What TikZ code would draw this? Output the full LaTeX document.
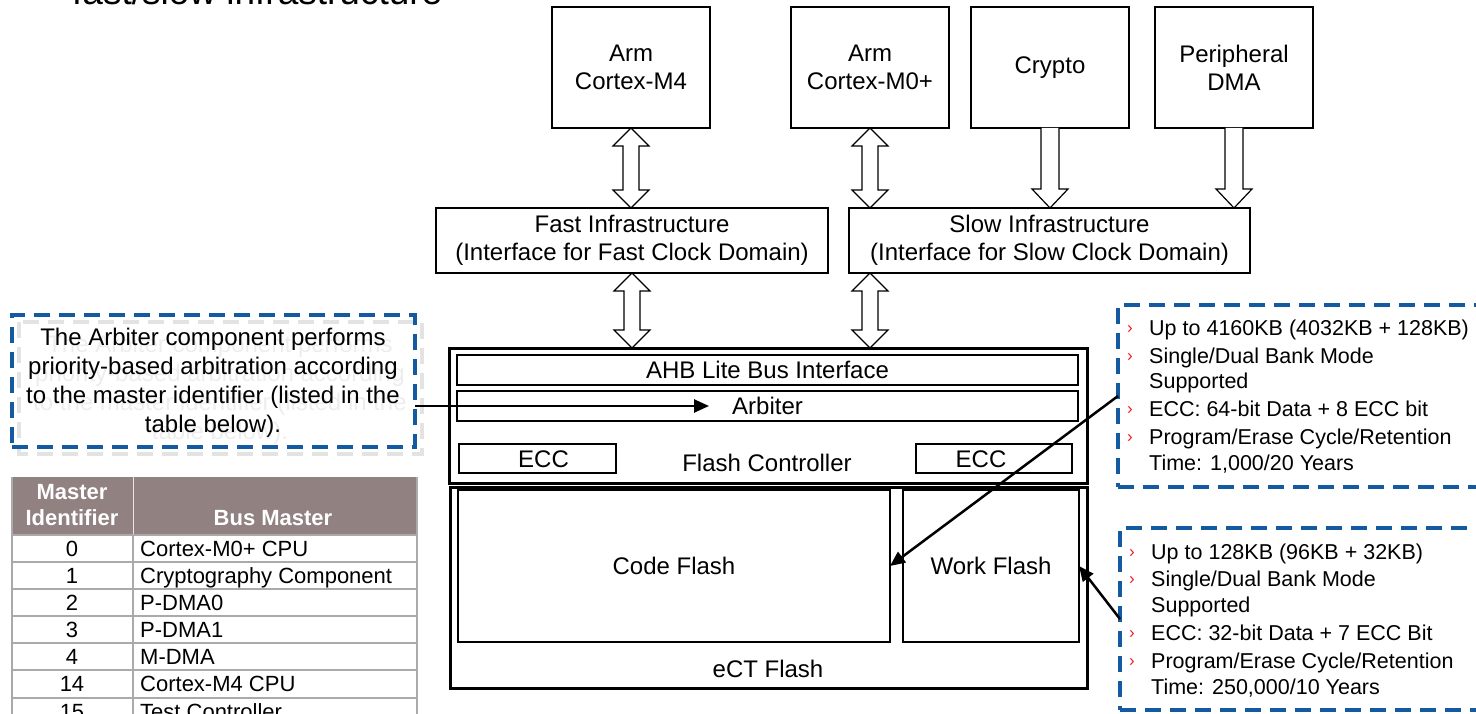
\documentclass[tikz,border=0pt]{standalone}
\usepackage{fontspec}
\setmainfont{Liberation Sans}
\usetikzlibrary{arrows.meta,calc}
\definecolor{dblue}{RGB}{20,90,160}
\definecolor{hdr}{RGB}{145,129,129}
\definecolor{tgray}{RGB}{170,170,170}
\definecolor{bred}{RGB}{230,30,40}
\tikzset{
  box/.style={draw=black, line width=1.5pt, fill=white, inner sep=0pt, outer sep=0pt, align=center, font=\fontsize{24}{28}\selectfont},
  obox/.style={draw=black, line width=3pt, inner sep=0pt, outer sep=0pt},
  ibox/.style={draw=black, line width=1.5pt, inner sep=0pt, outer sep=0pt, font=\fontsize{24}{28}\selectfont, text height=17.2pt, text depth=0pt},
  lbl/.style={inner sep=0pt, font=\fontsize{24}{28}\selectfont, text height=17.2pt, text depth=0pt},
  barrow/.style={draw=black, line width=1.2pt, fill=white, line join=miter},
  conn/.style={draw=black, line width=2.5pt, -{Triangle[length=15pt,width=13pt]}},
  dbox/.style={draw=dblue, line width=4pt, dash pattern=on 16pt off 9pt, inner sep=0pt, outer sep=0pt},
  sbox/.style={draw=black!11, line width=4pt, dash pattern=on 16pt off 9pt},
  rt/.style={anchor=base west, inner sep=0pt, font=\fontsize{21.5}{26}\selectfont},
  bl/.style={anchor=base west, inner sep=0pt, text=bred, font=\fontsize{17}{17}\selectfont},
  tt/.style={inner sep=0pt, font=\fontsize{22}{26}\selectfont, text height=15.8pt, text depth=0pt},
  tline/.style={draw=tgray, line width=1.3pt},
  notetxt/.style={inner sep=0pt, align=center, font=\fontsize{24}{29}\selectfont}
}
\newcommand\bidir[2]{\draw[barrow] let \p1=(#1), \p2=(#2) in
  (\x1,\y1) -- (\x1+18pt,\y1-18pt) -- (\x1+8pt,\y1-18pt) -- (\x1+8pt,\y2+18pt) -- (\x1+18pt,\y2+18pt) -- (\x1,\y2)
  -- (\x1-18pt,\y2+18pt) -- (\x1-8pt,\y2+18pt) -- (\x1-8pt,\y1-18pt) -- (\x1-18pt,\y1-18pt) -- cycle;}
\newcommand\downarr[2]{\draw[barrow] let \p1=(#1), \p2=(#2) in
  (\x1-9pt,\y1) -- (\x1-9pt,\y2+19pt) -- (\x1-18pt,\y2+19pt) -- (\x1,\y2) -- (\x1+18pt,\y2+19pt) -- (\x1+9pt,\y2+19pt) -- (\x1+9pt,\y1);}
\begin{document}
\begin{tikzpicture}[x=1pt,y=-1pt]
\useasboundingbox (0,0) rectangle (1476,714);
% title (cut at top)
\node[anchor=base west, inner sep=0pt, font=\fontsize{37}{40}\selectfont] (title) at (72,5) {fast/slow infrastructure};

% top masters
\node[box, minimum width=158pt, minimum height=121pt, anchor=north west] (m4) at (552,7) {Arm\\Cortex-M4};
\node[box, minimum width=158pt, minimum height=121pt, anchor=north west] (m0) at (791,7) {Arm\\Cortex-M0+};
\node[box, minimum width=158pt, minimum height=121pt, anchor=north west] (cr) at (971,7) {Crypto};
\node[box, minimum width=158pt, minimum height=121pt, anchor=north west] (pd) at (1155,7) {Peripheral\\DMA};

% infrastructures
\node[box, minimum width=392pt, minimum height=65pt, anchor=north west] (fast) at (436,208) {Fast Infrastructure\\(Interface for Fast Clock Domain)};
\node[box, minimum width=401pt, minimum height=65pt, anchor=north west] (slow) at (849,208) {Slow Infrastructure\\(Interface for Slow Clock Domain)};

% flash controller
\node[obox, minimum width=638pt, minimum height=135pt, anchor=north west] (fc) at (449,348) {};
\node[ibox, minimum width=621pt, minimum height=30pt, anchor=north west] (ahb) at (457,355) {AHB Lite Bus Interface};
\node[ibox, minimum width=621pt, minimum height=30pt, anchor=north west] (arb) at (457,391) {Arbiter};
\node[ibox, minimum width=157pt, minimum height=29pt, anchor=north west] (ecc1) at (459,444) {\hspace*{12pt}ECC};
\node[ibox, minimum width=156pt, minimum height=29pt, anchor=north west] (ecc2) at (916,444) {ECC\hspace*{26pt}};
\node[lbl] (fct) at (767,463) {Flash Controller};

% eCT flash
\node[obox, minimum width=637pt, minimum height=201pt, anchor=north west] (ect) at (450,487) {};
\node[ibox, minimum width=432pt, minimum height=152pt, anchor=north west] (code) at (458,490) {Code Flash};
\node[ibox, minimum width=176pt, minimum height=152pt, anchor=north west] (work) at (903,490) {Work Flash};
\node[lbl] (ectt) at (768,669) {eCT Flash};

% block arrows
\bidir{m4.south}{m4.south |- fast.north}
\bidir{m0.south}{m0.south |- slow.north}
\downarr{cr.south}{cr.south |- slow.north}
\downarr{pd.south}{pd.south |- slow.north}
\bidir{fast.south}{fast.south |- fc.north}
\bidir{m0.south |- slow.south}{m0.south |- fc.north}

% note box (left)
\draw[sbox] (19,322) rectangle (422,454);
\node[dbox, minimum width=403pt, minimum height=132pt, anchor=north west] (note) at (12,315) {};
\node[notetxt, text=black!7] (noteghost) at (220,390) {The Arbiter component performs\\priority-based arbitration according\\to the master identifier (listed in the\\table below).};
\node[notetxt] (notetext) at (213,383) {The Arbiter component performs\\priority-based arbitration according\\to the master identifier (listed in the\\table below).};

% right boxes
\node[dbox, minimum width=420pt, minimum height=182pt, anchor=north west] (upbox) at (1118,305) {};
\node[dbox, minimum width=420pt, minimum height=182pt, anchor=north west] (lowbox) at (1120,528) {};

\node[bl] (ub1) at (1127,333.5) {›};
\node[rt] (u1) at (1149,335.7) {Up to 4160KB (4032KB + 128KB)};
\node[bl] (ub2) at (1127,361) {›};
\node[rt] (u2) at (1149,363.2) {Single/Dual Bank Mode};
\node[rt] (u3) at (1149,388.7) {Supported};
\node[bl] (ub4) at (1127,414.5) {›};
\node[rt] (u4) at (1149,416.7) {ECC: 64-bit Data + 8 ECC bit};
\node[bl] (ub5) at (1127,442.5) {›};
\node[rt] (u5) at (1149,444.7) {Program/Erase Cycle/Retention};
\node[rt] (u6) at (1149,470.7) {Time: 1,000/20 Years};

\node[bl] (lb1) at (1129,557.5) {›};
\node[rt] (l1) at (1151,559.5) {Up to 128KB (96KB + 32KB)};
\node[bl] (lb2) at (1129,584.5) {›};
\node[rt] (l2) at (1151,586.5) {Single/Dual Bank Mode};
\node[rt] (l3) at (1151,612.5) {Supported};
\node[bl] (lb4) at (1129,638.5) {›};
\node[rt] (l4) at (1151,640.5) {ECC: 32-bit Data + 7 ECC Bit};
\node[bl] (lb5) at (1129,666.5) {›};
\node[rt] (l5) at (1151,668.5) {Program/Erase Cycle/Retention};
\node[rt] (l6) at (1151,694.5) {Time: 250,000/10 Years};

% connectors
\coordinate (arbtip) at (709,406);
\draw[conn] (note.east |- arb.center) -- (arbtip);
\draw[conn] (upbox.west) -- (code.east);
\draw[conn] (lowbox.west) -- (work.east);

% table
\fill[hdr] (12,477) rectangle (417,535);
\draw[draw=white!80!hdr, line width=1pt] (133,477) -- (133,535);
\foreach \yy in {535,562,589,616,643,670,698} { \draw[tline] (12,\yy) -- (417,\yy); }
\draw[tline] (12,477) -- (12,720);
\draw[tline] (133,535) -- (133,720);
\draw[tline] (417,477) -- (417,720);
\node[inner sep=0pt, align=center, text=white, font=\bfseries\fontsize{22}{26}\selectfont] (h1) at (72,505) {Master\\Identifier};
\node[tt, text=white, font=\bfseries\fontsize{22}{26}\selectfont] (h2) at (273,518) {Bus Master};
\node[tt] (n0) at (72,548.5) {0};
\node[tt, anchor=west] (b0) at (140,548.5) {Cortex-M0+ CPU};
\node[tt] (n1) at (72,575.5) {1};
\node[tt, anchor=west] (b1) at (140,575.5) {Cryptography Component};
\node[tt] (n2) at (72,602.5) {2};
\node[tt, anchor=west] (b2) at (140,602.5) {P-DMA0};
\node[tt] (n3) at (72,629.5) {3};
\node[tt, anchor=west] (b3) at (140,629.5) {P-DMA1};
\node[tt] (n4) at (72,656.5) {4};
\node[tt, anchor=west] (b4) at (140,656.5) {M-DMA};
\node[tt] (n14) at (72,684) {14};
\node[tt, anchor=west] (b14) at (140,684) {Cortex-M4 CPU};
\node[tt] (n15) at (72,711.5) {15};
\node[tt, anchor=west] (b15) at (140,711.5) {Test Controller};
\end{tikzpicture}
\end{document}
